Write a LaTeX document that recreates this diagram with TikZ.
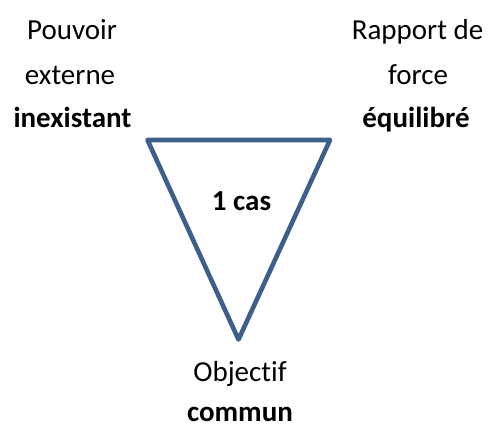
\documentclass[tikz,border=0pt]{standalone}
\usepackage{fontspec}
\setmainfont{Carlito}[Ligatures=NoCommon]
\definecolor{triblue}{HTML}{3C5F8C}
\tikzset{
  lbl/.style={anchor=base, inner sep=0pt, font=\fontsize{29}{35}\selectfont},
  lblb/.style={lbl, font=\fontsize{29}{35}\selectfont\bfseries},
  tri/.style={draw=triblue, line width=4.6pt, line join=round}
}
\begin{document}
\begin{tikzpicture}[x=1pt, y=-1pt]
\useasboundingbox (0,0) rectangle (488,428);
\coordinate (A) at (147.5,140);
\coordinate (B) at (330,140);
\coordinate (C) at (238.5,339.5);
\draw[tri] (A) -- (B) -- (C) -- cycle;
% left label
\node[lbl]  (l1) at (72,40) {Pouvoir};
\node[lbl]  (l2) at (70,84.5) {externe};
\node[lblb] (l3) at (72.5,128) {inexistant};
% right label
\node[lbl]  (r1) at (417.5,40) {Rapport de};
\node[lbl]  (r2) at (418,84.5) {force};
\node[lblb] (r3) at (416,128) {équilibré};
% centre
\node[lblb] (c1) at (241.5,210) {1 cas};
% bottom label
\node[lbl]  (b1) at (240,381.5) {Objectif};
\node[lblb, text depth=0pt] (b2) at (240,421.5) {commun};
\end{tikzpicture}
\end{document}
